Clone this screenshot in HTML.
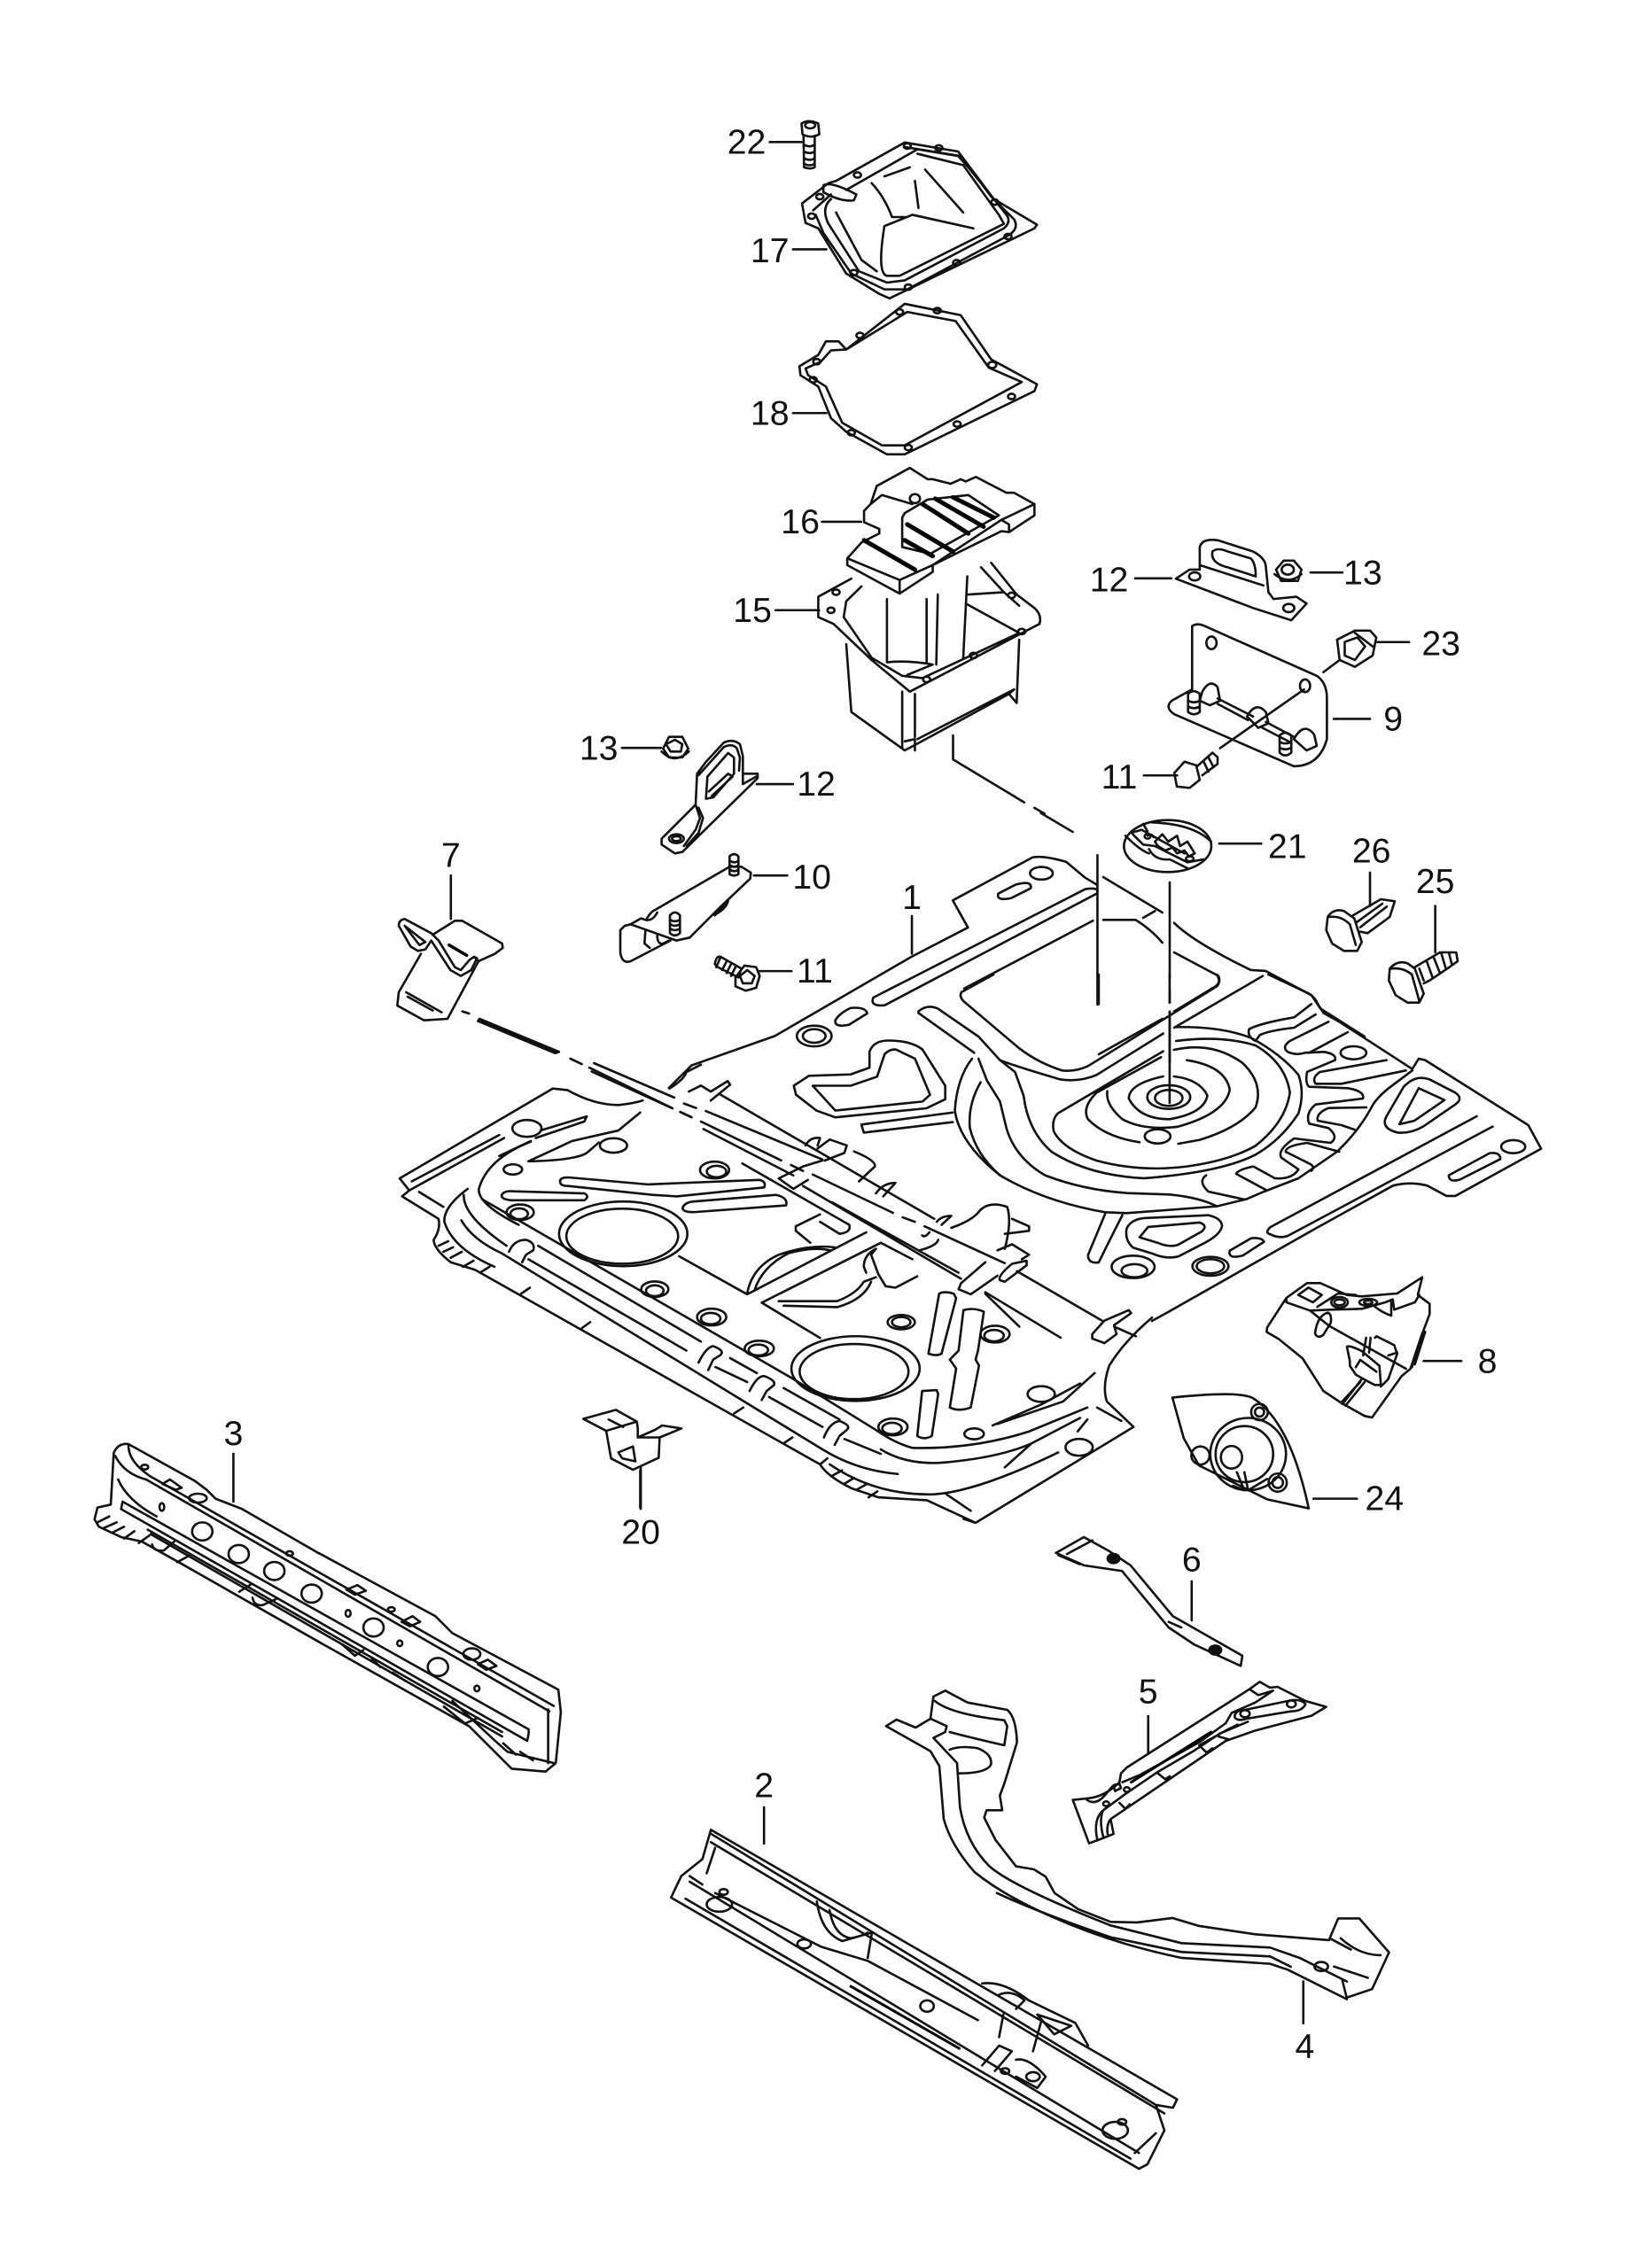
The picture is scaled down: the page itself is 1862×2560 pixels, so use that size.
<!DOCTYPE html>
<html><head><meta charset="utf-8"><style>
html,body{margin:0;padding:0;background:#fff}
svg{display:block}
path,ellipse,line{vector-effect:non-scaling-stroke;fill:none;stroke:#111;stroke-width:2.6;stroke-linejoin:round;stroke-linecap:round}
.d{stroke-width:5;stroke:#000}
.f{fill:#111;stroke:#111}
text{font-family:"Liberation Sans",sans-serif;font-size:24px;fill:#111;text-anchor:middle}
</style></head><body>
<svg width="1862" height="2560" viewBox="0 0 1862 2560" xmlns="http://www.w3.org/2000/svg">
<rect width="1862" height="2560" fill="#fff"/>

<!-- Z7 floor front -->
<g transform="translate(440,1200) scale(.5485,.338)">
<path d="M20,385L335,85L365,90Q420,140 470,140Q500,135 520,125M25,445L40,425L20,385M25,445L100,520Q105,555 90,590Q90,620 125,665L175,690L885,1340Q900,1380 950,1420L1005,1450L1105,1460L1205,1535L1530,1215L1475,1130Q1465,1080 1480,1010Q1510,930 1568,850M45,395L225,240M40,425L235,250M60,430L110,480M1180,1522L1205,1535"/>
<path d="M515,165L470,225L375,260L285,328Q380,325 405,300L430,265M405,178L310,225M405,178L400,195L300,250M225,310L290,260"/>
<path d="M290,262Q200,320 183,420Q180,470 265,540M190,455L270,530L825,1050L1000,1225Q1040,1270 1075,1285Q1200,1290 1315,1230L1435,1150M152,440Q150,510 240,610M147,525Q170,590 230,635L890,1290Q960,1360 1045,1372M112,530Q130,620 215,680M160,420Q110,480 112,530M285,655L610,960M305,610L640,930M670,1015L735,1065M700,985L755,1035M780,1115L890,1215M810,1085L925,1190M935,1255L1010,1305M1010,1290Q1060,1340 1130,1335Q1250,1320 1320,1270L1420,1185M905,1340Q1000,1445 1120,1440Q1210,1430 1375,1300"/>
<path d="M270,770L288,750M395,885L412,865M708,1170L727,1150M810,1270L828,1250M885,1340L900,1320M100,610L120,595M110,630L130,615M125,650L148,630M150,680L172,660M185,700L205,680M908,1380L930,1360M935,1405L955,1385M960,1425L982,1405M985,1450L1003,1430"/>
<path d="M245,630Q255,590 280,590Q300,600 295,625L280,640L272,665M635,1000Q650,950 665,945Q690,960 680,975L665,990L655,1025M740,1095Q755,1045 770,1045Q795,1060 790,1075L775,1095L765,1125M893,1250Q905,1200 925,1195Q950,1210 940,1225L925,1245L915,1275"/>
<ellipse cx="282" cy="218" rx="30" ry="28"/><ellipse cx="460" cy="275" rx="28" ry="24"/><ellipse cx="253" cy="355" rx="19" ry="17"/>
<ellipse cx="668" cy="357" rx="30" ry="28"/><ellipse cx="672" cy="362" rx="20" ry="19"/>
<ellipse cx="268" cy="498" rx="28" ry="26"/><ellipse cx="266" cy="503" rx="18" ry="18"/>
<ellipse cx="545" cy="755" rx="28" ry="26"/><ellipse cx="545" cy="760" rx="18" ry="18"/>
<ellipse cx="662" cy="848" rx="30" ry="28"/><ellipse cx="660" cy="853" rx="20" ry="19"/>
<ellipse cx="760" cy="953" rx="30" ry="26"/><ellipse cx="758" cy="958" rx="20" ry="18"/>
<ellipse cx="1035" cy="1215" rx="30" ry="28"/><ellipse cx="1033" cy="1220" rx="20" ry="19"/>
<ellipse cx="1052" cy="865" rx="28" ry="24"/><ellipse cx="1052" cy="865" rx="19" ry="17"/>
<ellipse cx="1245" cy="905" rx="30" ry="28"/><ellipse cx="1243" cy="910" rx="20" ry="19"/>
<ellipse cx="480" cy="570" rx="132" ry="108"/><ellipse cx="478" cy="578" rx="115" ry="92"/>
<ellipse cx="958" cy="1020" rx="132" ry="108"/><ellipse cx="955" cy="1030" rx="112" ry="92"/>
<ellipse cx="1202" cy="1238" rx="20" ry="18"/><ellipse cx="1340" cy="1105" rx="28" ry="26"/><ellipse cx="1418" cy="1283" rx="28" ry="28"/>
<path d="M350,395Q350,380 370,382L530,405L760,390Q775,395 770,415L590,445L540,440L365,410Q350,410 350,395ZM230,440Q235,425 255,428L400,435Q412,445 400,458L250,458Q228,455 230,440ZM602,485Q605,465 625,462L795,440Q820,450 815,475L630,497Q605,500 602,485Z"/>
<path d="M595,645L735,772L980,565M765,800L1010,600L1075,655M765,800L885,918M735,770Q745,680 800,640Q860,605 915,615M750,760Q765,680 820,635Q870,612 905,625M865,600L835,560L835,545L885,505M725,335L945,540Q950,565 925,570L885,530"/>
<path d="M680,105L1120,520M650,160L890,322M850,410L1175,720M1225,770L1295,880M910,465L1170,700M1290,695L1465,860M1225,765L1380,917M645,220L830,375"/>
<path d="M415,28L580,150M600,165L620,180M640,195L805,325M825,340L850,360M870,372L1035,500M1055,515L1080,530M1100,545L1265,668M420,0L585,115M605,135L630,150"/>
<path d="M855,275Q865,245 885,250L880,275M880,285L905,255L940,275L935,300L895,325M955,295Q1000,325 998,345L965,395M800,385L850,345L890,325M800,385L830,420L860,390M1155,550Q1200,525 1215,490Q1235,460 1270,480Q1280,530 1265,620M1280,520L1315,545L1315,560L1265,570M1175,735L1225,665M1250,625L1280,605L1315,640L1300,655M1175,735L1170,755L1195,772L1250,710M1255,725Q1250,710 1280,670L1310,660L1310,675L1265,730ZM1000,435Q1015,400 1040,400L1015,445M1125,530Q1135,510 1155,510L1135,540M1090,625Q1125,610 1128,590M1095,575Q1100,585 1110,565M1445,905L1470,860L1520,825L1525,835L1490,875L1495,905L1470,935L1445,920ZM1490,880L1535,912M615,95L640,75L660,95L695,60L700,72L660,125M575,85Q605,55 610,30L640,5"/>
<path d="M1000,620L990,640L1005,705L1020,745L1040,750L1085,712M800,795L920,795Q960,770 975,730L1000,715M810,810L920,815Q975,790 990,730M1000,620Q975,640 975,680L980,700"/>
<path d="M1130,770Q1140,760 1160,770L1165,785L1135,970Q1125,980 1108,970ZM1180,825Q1200,815 1222,830L1210,960L1205,990L1212,1010L1195,1150Q1170,1165 1152,1150L1165,1020L1152,990L1170,960ZM1095,1095L1125,1092L1128,1105L1115,1245Q1100,1260 1085,1245Z"/>
<path d="M1240,1210L1340,1140L1420,1070M1250,1205L1385,1130L1450,1035M1435,1190L1415,1230M1455,1150L1505,1195M1320,1270L1265,1350M1145,1440L1195,1495"/>
<!-- slot below kidney -->
<path d="M970,205L1158,165M970,205L975,232L1158,197"/>
<!-- 20 -->
<path d="M398,1188L465,1158L508,1197L445,1228ZM445,1228L455,1320L500,1358L553,1318L555,1250L510,1250L510,1220L508,1197M510,1250L545,1225L560,1210L600,1220L555,1250M470,1300L500,1280L505,1330L478,1320L470,1300ZM480,1215L450,1190M515,1360V1485"/>
</g>

<!-- bridge on floor edge -->
<path d="M1320,1480L1300,1491"/>

<!-- Z1 upper edge -->
<g transform="translate(430,950) scale(.8546,.5102)">
<path d="M380,545L410,495L520,430L700,255L775,190L755,130L860,35Q875,30 905,45L930,80L945,95"/>
<path d="M650,345L930,105Q950,100 945,115L665,362Q645,365 650,345ZM600,395Q605,380 620,368Q640,365 642,380L618,405Q598,412 600,395ZM815,115L838,95Q860,85 858,103L832,125Q812,132 815,115ZM770,325L940,175"/>
<ellipse cx="572" cy="430" rx="23" ry="23"/><ellipse cx="572" cy="430" rx="15" ry="15"/><ellipse cx="872" cy="70" rx="15" ry="14"/>
<!-- kidney -->
<path d="M545,540L565,518L620,515L645,500L645,465Q650,440 670,440Q700,440 715,460L745,540V570L720,590L600,610L575,595L548,560ZM570,540L620,540L655,520L665,470Q672,458 680,460L705,480L725,560L715,575L600,595Z"/>
<!-- 7 leader dashes -->
<path d="M250,480L265,492M275,500L385,590M395,598L410,610"/>
<path class="f" d="M130,392L235,465L230,468L128,397Z"/>
<!-- 24 -->
<path d="M1045,1230Q1130,1215 1150,1230Q1200,1280 1225,1475L1170,1455L1080,1380L1060,1320ZM1125,1425L1140,1435L1130,1395M1140,1395L1145,1435L1170,1410"/>
<ellipse cx="1145" cy="1355" rx="50" ry="80"/><ellipse cx="1140" cy="1355" rx="38" ry="62"/><ellipse cx="1123" cy="1362" rx="14" ry="25"/><ellipse cx="1160" cy="1262" rx="11" ry="18"/><ellipse cx="1160" cy="1262" rx="6" ry="10"/><ellipse cx="1184" cy="1418" rx="12" ry="20"/><ellipse cx="1184" cy="1418" rx="7" ry="12"/><ellipse cx="1082" cy="1358" rx="12" ry="20"/>
</g>

<!-- clip 7 -->
<g transform="translate(430,1020) scale(.3333)">
<path d="M175,105L250,58L275,58L410,135L412,150L385,170L330,195L315,180M330,195L225,390L145,395L55,345L60,300L135,170"/>
<path d="M80,52Q60,55 60,75L100,145L125,160L150,155L170,125L235,225L270,245L305,225L325,185L315,180L300,190L270,225L250,215L195,125L170,100ZM80,75L130,140L150,130L80,75"/>
<path d="M85,300L205,368M90,315L175,362M275,365L298,372"/>
<path class="d" style="stroke-width:3.5" d="M230,140L290,175"/>
</g>

<!-- part 8 -->
<g transform="translate(1420,1420) scale(.3333)">
<path d="M95,135L165,85L210,85L300,125L350,130L470,120L555,65L540,125L580,155V190L550,270L515,375L485,400L385,540L360,535L280,490L220,450L150,340L70,275L28,250L30,235ZM95,135V150L175,178L240,175L350,172L430,150L455,140L460,175L530,150L545,125M135,125L170,100L215,125L185,150ZM200,165L270,120L330,125M395,165Q420,185 450,195V150M175,178L240,230L500,375"/>
<ellipse cx="275" cy="150" rx="28" ry="18"/><ellipse cx="275" cy="150" rx="18" ry="10"/><ellipse cx="372" cy="150" rx="30" ry="12"/><ellipse cx="372" cy="150" rx="14" ry="6"/>
<path d="M192,255Q200,195 235,185Q250,190 245,220L220,260Q200,275 192,255ZM300,300Q310,295 350,315L410,365L415,430H395L375,420L330,395L310,365V350ZM365,270L355,330M380,270L375,320M395,270L400,265L460,295L470,325L440,410L415,435M440,330L470,320M330,370L345,345L400,385M350,410L285,495M360,420L295,500M345,420L280,490M555,255L520,370M565,250L530,360"/>
</g>

<!-- Z5 top of floor, 21 -->
<g transform="translate(1240,900) scale(.3333)">
<path d="M15,270L215,390M15,415L125,415Q180,450 215,492M150,408L190,385M255,525L405,605Q415,625 395,640L255,725M215,750L0,870M555,605L255,780M255,425Q320,490 515,585L565,588L720,670L750,715L900,810"/>
<path d="M240,288V612M240,650V695M240,728V900"/>
<ellipse cx="233" cy="165" rx="148" ry="88"/>
<path d="M90,130Q140,180 170,190M110,120L145,110L290,190M180,85Q320,90 380,150M115,125L150,160L190,165L300,220L355,210M170,175Q190,215 240,210L300,240M150,90L165,115M165,130Q180,120 185,135M190,150L215,125L235,150L265,130L275,165L300,150L325,190L305,200L290,180L265,190L250,170L225,180L200,165Z"/>
<ellipse cx="165" cy="132" rx="10" ry="8"/><ellipse cx="308" cy="208" rx="13" ry="8"/>
</g>

<!-- Z6 rear floor -->
<g transform="translate(1000,1100) scale(.4847,.3333)">
<path d="M250,0L175,60Q170,75 180,90L310,250Q355,300 410,325Q440,330 470,310L770,40Q780,25 770,0M495,0V100M660,0V95M660,125V435"/>
<path d="M890,0L985,65Q1000,80 1005,100L1018,130L1055,160L1225,320L1240,285L1255,290L1495,510L1525,590L1325,750L1305,750L1260,715Q1220,700 1180,715L1000,860L660,1140M1375,480L895,855Q880,875 895,880Q915,895 935,885L1412,515M1310,680L1405,605Q1430,600 1430,625L1335,695Q1310,705 1310,680Z"/>
<ellipse cx="1460" cy="583" rx="28" ry="22"/>
<path d="M1245,350Q1225,350 1205,380L1165,480Q1150,520 1190,535Q1220,540 1250,515L1325,440Q1345,420 1325,400L1265,355Q1255,350 1245,350ZM1240,385L1300,425L1230,495L1195,507Z"/>
<path d="M1225,325L1170,385Q1140,420 1130,450Q1100,530 1050,600L960,690L880,735L840,760L770,785L560,808L510,805Q370,770 265,680Q170,570 160,460Q165,350 200,285"/>
<path d="M675,178Q780,175 850,215Q920,270 960,340Q975,400 960,470Q920,560 860,610Q780,670 600,690Q470,680 385,600Q330,530 320,410L300,330L265,290"/>
<path d="M645,260L400,470Q385,490 390,530Q410,590 490,630Q590,670 700,650Q800,630 860,580Q930,500 940,400Q930,300 860,240Q780,205 675,225"/>
<path d="M670,255Q760,225 830,300Q880,370 860,450Q820,520 730,560L680,573M590,568Q510,550 470,490Q455,450 490,400L640,280M700,290Q790,310 800,390Q790,470 680,515Q600,530 550,490Q510,440 515,395M645,345Q565,370 565,420Q590,490 660,490Q740,470 748,410Q730,355 670,345"/>
<ellipse cx="658" cy="415" rx="50" ry="40"/><ellipse cx="658" cy="418" rx="32" ry="27"/><ellipse cx="632" cy="548" rx="30" ry="24"/>
<path d="M215,285L235,360L265,430L280,520Q300,620 370,680Q460,730 560,740L660,745Q730,755 770,785M220,365Q190,440 195,520Q210,610 265,680M75,125Q95,100 120,115L215,210L265,290Q300,310 405,355Q450,365 490,340L645,200M75,130L205,265"/>
<path d="M990,100L950,145Q870,165 845,185Q840,210 860,225L870,205Q890,190 950,180L1000,135M1030,160L940,225Q920,245 935,262Q955,275 975,265L1020,262Q1050,270 1045,290L980,330Q975,370 985,380L1075,385Q1115,395 1110,420L1000,440Q975,470 985,505L1030,520Q1055,550 1035,570L950,555Q910,595 920,620L960,660Q945,695 905,690L855,650Q820,660 815,675L885,730M1075,195L985,265M1165,290L1010,330Q990,350 1000,370L1060,370L1210,325M1118,450L1030,452Q1000,470 1005,495L1060,510L1090,525M1055,600L980,570Q930,580 930,600L985,640Q1000,650 990,665M745,680Q725,700 750,735L835,762"/>
<ellipse cx="1088" cy="265" rx="30" ry="22"/>
<path d="M510,810Q490,880 470,950Q470,980 495,975Q520,900 550,815M600,825L750,815Q780,825 782,850Q780,880 740,910L680,955Q650,965 620,945L575,925Q555,900 560,860Q570,830 600,825ZM610,855L730,840Q750,850 735,870L680,915Q660,925 635,910L590,890Z"/>
<ellipse cx="575" cy="990" rx="50" ry="38"/><ellipse cx="578" cy="1003" rx="30" ry="22"/>
<ellipse cx="755" cy="988" rx="42" ry="32"/><ellipse cx="755" cy="988" rx="32" ry="24"/>
<path d="M800,935L850,893Q875,890 880,905L830,952Q795,965 800,935Z"/>
</g>

<!-- Z4 -->
<g transform="translate(640,780) scale(.3333)">
<path d="M320,500L435,385L440,280L470,240L530,175Q560,160 585,180L595,220L595,280L645,280L645,295L390,545L365,550L320,520ZM445,285L530,190Q560,175 575,195L585,225L582,270M435,385L450,430L435,470L395,525M445,395L460,430L445,480L405,525M470,365L475,290L545,210L565,225L565,280L495,360ZM480,340L545,280L560,290L490,355M595,280L595,315L640,290"/>
<ellipse cx="370" cy="500" rx="25" ry="15"/><ellipse cx="370" cy="500" rx="15" ry="8"/>
<path d="M325,195L345,155L390,155L410,195L390,225L345,225ZM320,205Q365,250 412,205M335,180L365,165L390,180L385,205L350,205Z"/>
<path d="M270,770Q285,745 300,740L550,595L590,595L622,615L620,635L520,730L480,770L415,835L370,845L215,790L195,795L180,810V885Q185,925 215,915L350,845M215,790L250,770L265,775Q290,780 305,750M265,810L262,855L280,870M305,825Q305,860 325,855L345,845M500,760L530,725L545,710Q540,735 505,755"/>
<path d="M550,560Q565,545 580,560V620Q565,630 550,620ZM552,575Q565,585 580,575M552,590Q565,600 580,590M552,605Q565,615 580,605M348,760Q365,740 382,760V820Q365,835 348,820ZM350,775Q365,785 382,775M350,790Q365,800 382,790M350,805Q365,815 382,805"/>
<path d="M500,925Q505,895 520,900L590,940L580,970L510,935ZM520,900L505,935M540,915L525,945M555,925L540,955M570,935L555,965"/>
<path d="M570,970L600,930L640,935L652,965L640,1005L605,1015L570,1000ZM585,965L610,945L635,965L625,990L595,990Z"/>
</g>

<!-- Z8 -->
<g transform="translate(1380,960) scale(.3333)">
<path d="M355,225Q375,195 410,205L445,230L470,310L455,340L410,340L370,315L350,270ZM360,225Q400,220 430,250L450,320M440,220L535,165L582,172L565,225L490,280L465,275M450,245L540,180M465,260L555,190"/>
<path d="M565,400Q590,370 625,382L650,400L680,485L665,515L625,515L585,490L562,440ZM570,400Q610,395 640,420L665,510M650,395L735,345L790,345L795,375L760,400L700,440L680,450M665,400L680,440M690,375L710,430M715,365L735,415M740,350L755,400M765,345L775,385"/>
</g>

<!-- Z2 -->
<g transform="translate(800,120) scale(.574,.5102)">
<path d="M182,38Q195,28 215,38L217,62Q200,72 184,62ZM186,65L187,135Q200,140 208,135L208,65M187,85Q198,92 208,85M187,100Q198,107 208,100M187,115Q198,122 208,115M187,127Q198,134 208,127"/>
<ellipse cx="199" cy="42" rx="10" ry="7"/>
<path d="M183,215L235,170L250,165L385,80L490,100L560,205L645,262L640,270L355,425L335,415L270,370L215,270L190,258ZM205,230L240,195M385,90L495,110L555,200L600,250Q610,270 590,285L390,405L345,405L280,370L225,280L210,240M240,205Q220,225 235,260L295,365L350,390L385,385L580,270Q595,255 585,240L510,135L490,110L410,95L270,185M250,235L300,340L330,365M410,105L500,130L570,240L580,260L375,375L350,375Q330,370 345,265L400,240L520,270M405,165L412,225M425,140L500,235M320,170Q345,200 360,245L385,245M345,155L395,135M225,175Q240,165 290,195L285,208Q260,212 225,190Z"/>
<ellipse cx="292" cy="152" rx="7" ry="6"/><ellipse cx="390" cy="88" rx="7" ry="6"/><ellipse cx="452" cy="92" rx="7" ry="6"/><ellipse cx="562" cy="212" rx="7" ry="6"/><ellipse cx="588" cy="288" rx="7" ry="6"/><ellipse cx="487" cy="346" rx="7" ry="6"/><ellipse cx="392" cy="400" rx="7" ry="6"/><ellipse cx="285" cy="368" rx="7" ry="6"/><ellipse cx="202" cy="243" rx="7" ry="6"/><ellipse cx="218" cy="200" rx="7" ry="6"/>
<path d="M178,575L215,550L230,520L245,520L255,520L270,538L385,437L495,462L555,560L645,615L640,630L385,770L350,770L270,720L240,690L215,620L180,595ZM190,580L220,565L240,540L270,538L390,455L485,475L550,578L615,610L385,750L340,750L262,700L230,620L195,595Z"/>
<ellipse cx="375" cy="455" rx="7" ry="6"/><ellipse cx="449" cy="452" rx="7" ry="6"/><ellipse cx="297" cy="507" rx="7" ry="6"/><ellipse cx="212" cy="565" rx="7" ry="6"/><ellipse cx="205" cy="605" rx="7" ry="6"/><ellipse cx="557" cy="572" rx="8" ry="7"/><ellipse cx="595" cy="642" rx="7" ry="6"/><ellipse cx="488" cy="703" rx="7" ry="6"/><ellipse cx="392" cy="755" rx="7" ry="6"/><ellipse cx="280" cy="722" rx="7" ry="6"/>
<!-- 16 -->
<path d="M272,1000V1015L375,1078L440,1030V1015L575,940L590,942L640,905V880L600,855H585L525,820L505,830L495,825L475,835L440,825H430L395,800L330,840L318,880L305,895V920L335,935V945L300,965ZM272,1000L375,1048L440,1015L575,915L640,880M575,915L590,925V942M375,1050V1078M318,880L340,860L400,880M380,910L385,900L430,870L510,860L570,905L435,990L380,975Z"/>
<path class="d" d="M420,880L510,945M445,868L540,930M390,925L480,985M385,960L440,995M480,865L560,910M305,960L405,1025"/>
<ellipse cx="405" cy="868" rx="10" ry="10"/>
<!-- 15 -->
<path d="M215,1085L280,1045M215,1085V1130L245,1145L320,1225L395,1295L650,1145Q655,1125 640,1110L605,1080L555,1010M270,1095L300,1062M270,1095L265,1130L320,1220L380,1260L420,1265L610,1165M510,1080L580,1075L610,1105M505,1100L610,1165M350,1090V1230M428,1090V1230M450,1080L447,1235M508,1040L500,1220M535,1020L580,1075M350,1230Q390,1225 440,1235L390,1258M270,1190L280,1340L385,1425L410,1410L590,1300L605,1320L610,1180M380,1295V1420M410,1400L600,1290M385,1405L405,1400V1425M405,1300V1395M590,1300L600,1290"/>
<ellipse cx="250" cy="1075" rx="7" ry="6"/><ellipse cx="240" cy="1115" rx="7" ry="6"/><ellipse cx="595" cy="1082" rx="7" ry="6"/><ellipse cx="615" cy="1162" rx="7" ry="6"/><ellipse cx="520" cy="1215" rx="7" ry="6"/><ellipse cx="428" cy="1268" rx="7" ry="6"/>
<path d="M480,1392V1445L620,1540M640,1552L660,1565"/>
<!-- 12 right -->
<path d="M918,1045L945,1025H965V975Q970,955 1000,960L1070,985Q1095,1000 1095,1020L1100,1075L1110,1090L1155,1085L1175,1100L1145,1137L1070,1110L918,1045ZM990,985Q1000,975 1020,985L1065,1000Q1075,1010 1075,1040L1020,1020Q985,1010 990,985ZM965,1015L1090,1060"/>
<ellipse cx="955" cy="1040" rx="11" ry="9"/><ellipse cx="1140" cy="1110" rx="11" ry="9"/>
<!-- 13 right -->
<path d="M1115,1025L1130,1005H1150L1165,1025L1158,1050H1125ZM1112,1035Q1140,1060 1165,1035"/>
<ellipse cx="1138" cy="1025" rx="12" ry="11"/>
<!-- 23 -->
<path d="M1235,1180L1270,1160L1300,1160L1312,1175L1305,1215L1270,1240L1240,1225ZM1250,1185L1275,1175L1290,1195L1270,1225L1250,1215ZM1270,1165L1305,1195M1208,1252L1240,1225"/>
<!-- 9 -->
<path d="M950,1150Q960,1142 975,1150L1195,1260Q1215,1275 1215,1310V1400Q1200,1460 1150,1460L915,1345Q895,1330 910,1315L950,1290ZM1005,1420L1170,1290M1000,1310L1070,1350M1000,1322L1060,1358M1095,1362L1150,1395M1088,1375L1145,1408"/>
<ellipse cx="988" cy="1187" rx="10" ry="14"/><ellipse cx="1172" cy="1282" rx="10" ry="14"/>
<path d="M970,1295Q985,1265 1000,1285L1005,1315L985,1325L965,1315ZM1058,1350Q1075,1315 1095,1340L1100,1365L1080,1375ZM1150,1400Q1170,1360 1190,1390L1195,1415L1175,1425Z"/>
<path d="M942,1300Q953,1288 965,1300V1340Q953,1350 942,1340ZM942,1315Q953,1322 965,1315M942,1328Q953,1335 965,1328M1122,1392Q1133,1380 1145,1392V1430Q1133,1442 1122,1430ZM1122,1406Q1133,1413 1145,1406M1122,1419Q1133,1426 1145,1419"/>
<!-- 11 right -->
<path d="M915,1475L935,1450L958,1458L965,1490L945,1508L920,1505ZM960,1460L990,1430L1000,1440L1000,1455L970,1480M972,1448L982,1472M982,1440L992,1462"/>
</g>

<!-- part 3 left, long lines -->
<g transform="translate(100,1620) scale(.3333)">
<path d="M85,60Q100,25 135,30L360,155L400,185L430,215L520,250L780,400M85,60L75,235L30,245L20,285L35,310L110,345L180,360L305,430L780,700"/>
<path d="M135,35Q135,90 210,140L1575,917M90,70Q120,130 195,150L1560,935M100,150Q130,220 230,275M115,225L1490,996V1010L1485,1035L110,250ZM200,320L1400,1005M210,335L1400,1020"/>
<path d="M30,295L70,275M50,315L95,295M80,330L120,310M120,350L155,325M170,365L205,340M215,370Q220,395 255,390L290,360M300,430L340,408M510,530L550,505M555,550Q560,580 590,575L635,555M250,165L275,150L315,178L295,185Z"/>
<ellipse cx="370" cy="213" rx="30" ry="15"/><ellipse cx="190" cy="108" rx="12" ry="8"/><ellipse cx="248" cy="243" rx="8" ry="13"/>
</g>

<!-- Z3 -->
<g transform="translate(80,1550) scale(.9566,.6378)">
<!-- 3 remainder -->
<path d="M292,318L430,430L450,460L575,560L578,600L572,690L560,705L520,700L480,640L470,625L292,475M563,595V690M450,580L500,650L515,670L570,690M320,480L335,500L345,490M355,505L365,520M380,530L395,545M440,590L465,620L480,610M510,655L525,675M530,670L545,685"/>
<ellipse cx="155" cy="280" rx="12" ry="16"/><ellipse cx="198" cy="320" rx="12" ry="16"/><ellipse cx="240" cy="350" rx="12" ry="16"/><ellipse cx="284" cy="390" rx="12" ry="16"/><ellipse cx="357" cy="450" rx="12" ry="16"/><ellipse cx="433" cy="520" rx="12" ry="16"/><ellipse cx="473" cy="497" rx="10" ry="10"/><ellipse cx="258" cy="319" rx="4" ry="4"/><ellipse cx="378" cy="418" rx="4" ry="4"/><ellipse cx="327" cy="425" rx="3" ry="6"/><ellipse cx="388" cy="478" rx="3" ry="5"/><ellipse cx="479" cy="558" rx="3" ry="5"/>
<path d="M325,383L338,375L348,385L335,392ZM390,440L403,430L412,440L400,448ZM480,515L492,507L502,518L490,525Z"/>
<!-- 2 -->
<path d="M755,808L1305,1285L1300,1300L1280,1295L1290,1340L1270,1400L1260,1408L708,928L720,890L745,860ZM755,815L1280,1295M755,830L1290,1310M760,840L750,885M730,900L1260,1380M725,930L1250,1390M880,935Q885,990 910,1005L945,990M895,950Q900,995 920,1000Q935,995 940,990M945,990L940,1035M760,920L885,1015L940,1040L1070,1145M1075,1080Q1100,1075 1130,1110L1185,1150L1200,1190M1095,1100Q1110,1090 1125,1110L1115,1125M1140,1135L1180,1155L1160,1170ZM1100,1135L1095,1175M1145,1145L1135,1200M1075,1225L1095,1190L1110,1200L1090,1235M1115,1215Q1130,1210 1150,1245L1140,1265L1115,1245M730,890L745,905M1280,1345L1255,1380"/>
<path class="d" style="stroke-width:3" d="M920,1085L1048,1195"/>
<ellipse cx="765" cy="940" rx="15" ry="13"/><ellipse cx="770" cy="918" rx="5" ry="5"/><ellipse cx="865" cy="1010" rx="8" ry="8"/><ellipse cx="1010" cy="1120" rx="8" ry="10"/><ellipse cx="1135" cy="1245" rx="8" ry="8"/><ellipse cx="1232" cy="1340" rx="15" ry="15"/><ellipse cx="1240" cy="1325" rx="5" ry="5"/><ellipse cx="1102" cy="1235" rx="5" ry="5"/>
<!-- 4 right end -->
<path d="M1485,1000L1495,965H1520L1555,1025L1535,1090L1505,1105M1498,1000Q1520,1030 1545,1030M1490,1050L1530,1070M1500,1075L1505,1105M1485,1000L1510,1020"/>
<ellipse cx="1475" cy="1050" rx="8" ry="8"/>
<!-- 6 -->
<path d="M1162,318L1195,290L1225,315L1250,340L1300,430L1382,500L1380,518L1325,480L1295,450L1240,350L1195,340ZM1175,320L1205,296M1165,322L1190,338M1295,440L1310,450"/>
<ellipse class="f" cx="1230" cy="328" rx="7" ry="8"/><ellipse class="f" cx="1350" cy="490" rx="7" ry="8"/>
</g>

<!-- part 4 and 5 -->
<g transform="translate(1000,1880) scale(.3333)">
<path d="M0,205L35,183L100,210L150,180L160,105L200,85L275,125L410,150Q440,175 443,260L400,400L385,440L393,490H340L332,515L370,590L440,680L500,690L540,715L570,770L650,825L760,868L850,870L970,855L1060,882L1250,910L1500,930M0,205L150,290L180,340L195,520Q220,610 300,700Q400,780 560,850Q760,940 1000,990L1300,1010L1360,1030L1560,1130"/>
<path d="M150,180L205,205L200,225L160,245M165,120Q220,165 400,185L410,205L400,270M215,225Q290,245 400,270M215,285Q250,270 310,280Q360,300 355,335Q340,365 245,365M160,245L240,330L250,480Q270,600 350,680Q430,750 760,880L1000,940L1300,955L1400,990L1560,1070M375,770Q500,830 760,920L1000,970L1300,985L1370,1020"/>
<path d="M632,455L680,450Q740,445 790,395L795,365L815,345L1230,80L1265,55L1300,75L1325,72L1420,120L1490,140L1440,170L1250,220L1150,255L760,520L770,570L720,590L687,602ZM1230,80L1260,100L1310,85L1250,125L1170,160L1150,195L1060,260L860,370L800,395M1180,175Q1180,150 1215,150L1360,120Q1400,110 1420,130Q1410,155 1370,155L1220,180Q1190,190 1180,175ZM1225,190L1130,230L1040,290L920,360L810,435M1190,200L1150,220L1060,270M810,435L735,490Q700,520 715,590M735,490Q720,520 735,580M760,520Q745,540 750,570M920,365L945,385L960,375M790,465L810,485L825,470M1060,270L1085,295L1105,280M1125,240L1160,250M680,455Q710,475 740,440L765,410L790,400M770,405L790,400L795,415L775,425Z"/>
<path class="d" style="stroke-width:3" d="M830,395L1100,225"/>
<ellipse cx="1215" cy="163" rx="16" ry="12"/><ellipse cx="1372" cy="130" rx="15" ry="12"/><ellipse cx="815" cy="420" rx="10" ry="8"/><ellipse cx="745" cy="468" rx="10" ry="8"/>
</g>

<g transform="scale(1.636)">
<path d="M718,561L740,574M757,590V693M531,98H553M547,172H570M547,285H570M567,360H594M535,421H565M783,399H808M904,395H926M950,443H972M920,496H945M789,535H812M429,516H456M547,541H522M841,582H870M945,602V625M990,625V657M520,604H543M524,670H546M629,632V658M311,604V634M982,939H1008M906,1034H936M442,1012V1041M161,1003V1036M822,1091V1118M792,1184V1210M527,1247V1272M899,1367V1396"/>
</g>
<g transform="scale(1.636)">
<text x="515" y="106">22</text><text x="531" y="181">17</text><text x="531" y="293">18</text><text x="552" y="368">16</text><text x="519" y="429">15</text><text x="765" y="408">12</text><text x="940" y="403">13</text><text x="994" y="452">23</text><text x="961" y="504">9</text><text x="772" y="544">11</text><text x="413" y="524">13</text><text x="563" y="549">12</text><text x="888" y="592">21</text><text x="946" y="595">26</text><text x="990" y="616">25</text><text x="560" y="613">10</text><text x="562" y="678">11</text><text x="629" y="627">1</text><text x="311" y="598">7</text><text x="1026" y="947">8</text><text x="955" y="1042">24</text><text x="442" y="1065">20</text><text x="161" y="997">3</text><text x="822" y="1084">6</text><text x="792" y="1175">5</text><text x="527" y="1240">2</text><text x="900" y="1420">4</text>
</g>
</svg>
</body></html>
